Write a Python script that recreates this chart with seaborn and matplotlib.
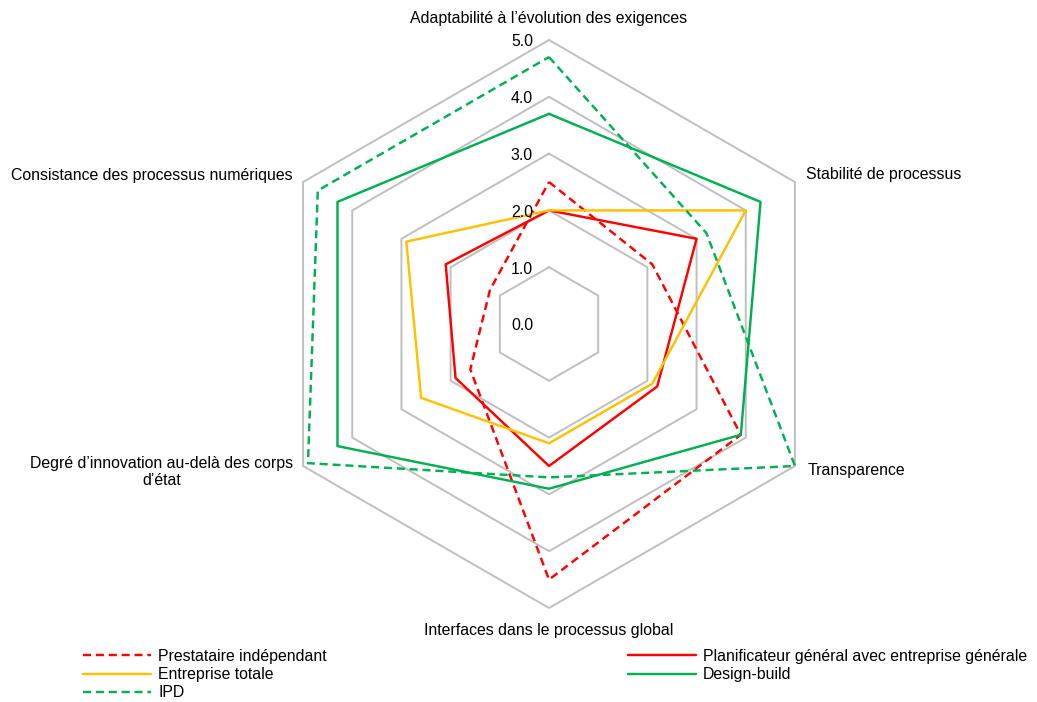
import numpy as np
import pandas as pd
import matplotlib
matplotlib.use("Agg")
import matplotlib.pyplot as plt
from matplotlib.lines import Line2D
import seaborn as sns

# Axes of the radar, clockwise from the top
categories = [
    "Adaptabilité à l’évolution des exigences",
    "Stabilité de processus",
    "Transparence",
    "Interfaces dans le processus global",
    "Degré d’innovation au-delà des corps\nd’état",
    "Consistance des processus numériques",
]

series_names = [
    "Prestataire indépendant",
    "Planificateur général avec entreprise générale",
    "Entreprise totale",
    "Design-build",
    "IPD",
]

prestataire = [2.5, 2.1, 3.9, 4.5, 1.6, 1.2]
planificateur = [2.0, 3.0, 2.2, 2.5, 1.9, 2.1]
entreprise_totale = [2.0, 4.0, 2.1, 2.1, 2.6, 2.9]
design_build = [3.7, 4.3, 3.9, 2.9, 4.3, 4.3]
ipd = [4.7, 3.2, 5.0, 2.7, 4.9, 4.7]

levels = [0.0, 1.0, 2.0, 3.0, 4.0, 5.0]

colors = {
    "Prestataire indépendant": "#FF0000",
    "Planificateur général avec entreprise générale": "#FF0000",
    "Entreprise totale": "#FFC000",
    "Design-build": "#00B050",
    "IPD": "#00B050",
}
dash_pat = (3.3, 2.0)
dashes = {
    "Prestataire indépendant": dash_pat,
    "Planificateur général avec entreprise générale": "",
    "Entreprise totale": "",
    "Design-build": "",
    "IPD": dash_pat,
}

sns.set_theme(style="white")
plt.rcParams["font.family"] = ["Liberation Sans", "DejaVu Sans"]
plt.rcParams["text.color"] = "#000000"
FS = 11.4
PX = 72 / 100  # pixels -> points at dpi 100

n = len(categories)
theta = np.linspace(0, 2 * np.pi, n, endpoint=False)
theta_closed = np.append(theta, 2 * np.pi)

values = [prestataire, planificateur, entreprise_totale, design_build, ipd]
rows = []
for name, vals in zip(series_names, values):
    closed = list(vals) + [vals[0]]
    for t, v in zip(theta_closed, closed):
        rows.append({"series": name, "theta": t, "value": v})
df = pd.DataFrame(rows)

fig = plt.figure(figsize=(10.37, 7.02), dpi=100)
W, H = 1037, 702
cx, cy, R = 549, 324, 284
ax = fig.add_axes([(cx - R) / W, (H - cy - R) / H, 2 * R / W, 2 * R / H],
                  projection="polar")
ax.set_theta_offset(np.pi / 2)
ax.set_theta_direction(-1)
ax.set_ylim(0, 5)
ax.set_axis_off()

# Hexagonal grid rings
for lv in levels[1:]:
    ax.plot(theta_closed, [lv] * (n + 1), color="#BFBFBF", lw=1.4,
            zorder=1, clip_on=False)

sns.lineplot(data=df, x="theta", y="value", hue="series", style="series",
             palette=colors, dashes=dashes, sort=False, estimator=None,
             linewidth=1.75, legend=False, ax=ax)
for ln in ax.lines:
    ln.set_clip_on(False)

# Scale labels along the top axis
for lv in levels:
    ax.annotate(f"{lv:.1f}", xy=(0, lv), xytext=(-16 * PX, -2 * PX),
                textcoords="offset points", ha="right", va="center",
                fontsize=FS, color="#000000")

# Category labels at the outer vertices
label_offsets = [
    ((0, 22), "center", "center"),
    ((11, 7), "left", "center"),
    ((13, -5), "left", "center"),
    ((0, -22), "center", "center"),
    ((-10, -6), "right", "center"),
    ((-10, 7), "right", "center"),
]
for t, lab, ((dx, dy), ha, va) in zip(theta, categories, label_offsets):
    ax.annotate(lab, xy=(t, 5), xytext=(dx * PX, dy * PX),
                textcoords="offset points", ha=ha, va=va,
                multialignment="center", fontsize=FS, color="#000000",
                annotation_clip=False)

# Legend, filled row by row across two columns
handles = {
    name: Line2D([], [], color=colors[name], lw=1.75,
                 linestyle=(0, dashes[name]) if dashes[name] else "-")
    for name in series_names
}
order = ["Prestataire indépendant", "Entreprise totale", "IPD",
         "Planificateur général avec entreprise générale", "Design-build"]
leg = fig.legend([handles[k] for k in order], order, ncol=2, loc="upper left",
                 bbox_to_anchor=(83 / W, 1 - 649 / H), frameon=False,
                 fontsize=FS, handlelength=4.3, handletextpad=0.45,
                 columnspacing=19.0, labelspacing=0.2, borderpad=0,
                 borderaxespad=0)
for txt in leg.get_texts():
    txt.set_color("#000000")

fig.savefig("out.png", dpi=100, facecolor="white")
